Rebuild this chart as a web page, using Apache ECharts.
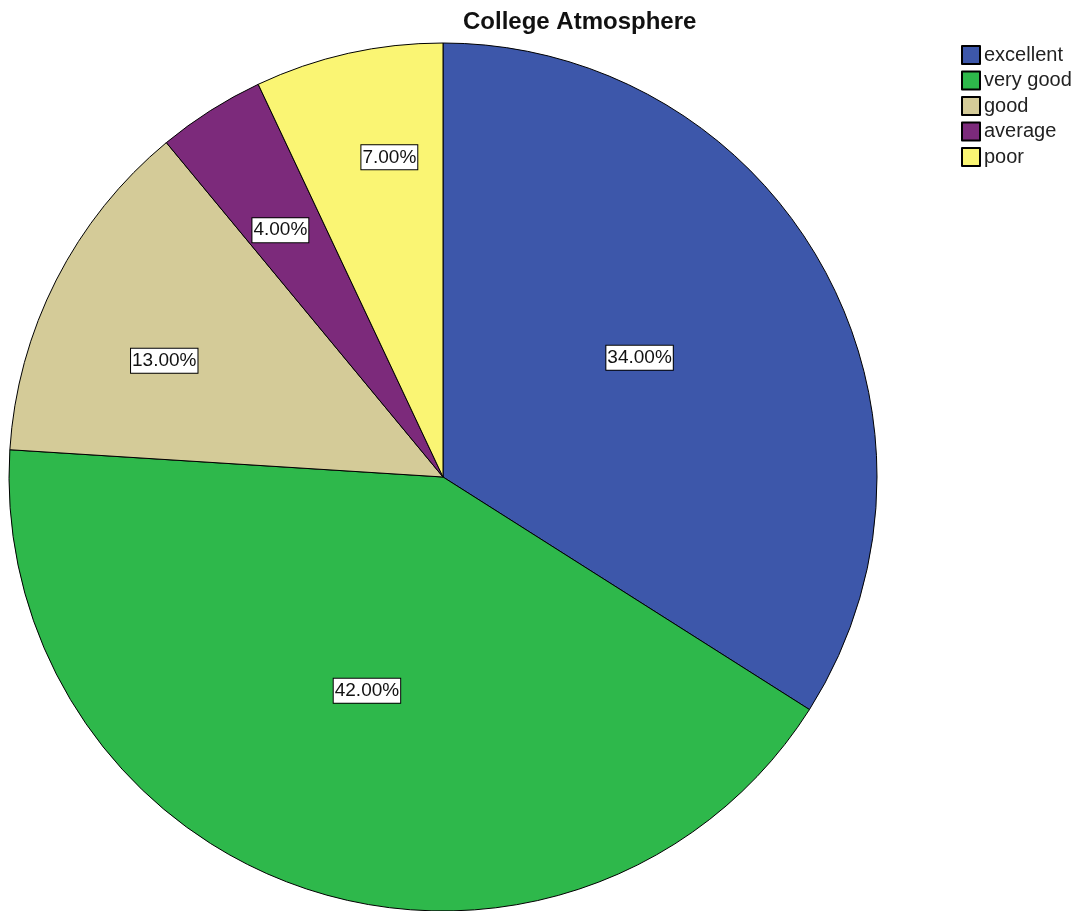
<!DOCTYPE html>
<html>
<head>
<meta charset="utf-8">
<script src="https://cdn.jsdelivr.net/npm/echarts@6/dist/echarts.min.js"></script>
<style>
html,body{margin:0;padding:0;background:#fff;}
#chart{width:1079px;height:911px;}
</style>
</head>
<body>
<div id="chart"></div>
<script>
const title = 'College Atmosphere';
const categories = ['excellent', 'very good', 'good', 'average', 'poor'];
const values = [34, 42, 13, 4, 7];
const colors = ['#3D57AA', '#2EB84B', '#D4CB98', '#7C2A7B', '#FAF573'];

// styling: radial placement of each label (fraction of radius) and angular nudge (deg)
const labelFrac = [0.523, 0.516, 0.689, 0.674, 0.74];
const labelTurn = [2.5, -1.6, 4.4, 1.0, -3.1];
const R = 434;
const font = '"Liberation Sans", Arial, Helvetica, sans-serif';

const total = values.reduce((a, b) => a + b, 0);
let cum = 0;
const data = categories.map((name, i) => {
  const mid = 90 - (cum + values[i] / 2) / total * 360;
  cum += values[i];
  const a0 = mid * Math.PI / 180;
  const a1 = (mid + labelTurn[i]) * Math.PI / 180;
  const r0 = 0.5 * R, r1 = labelFrac[i] * R;
  const dx = r1 * Math.cos(a1) - r0 * Math.cos(a0);
  const dy = -(r1 * Math.sin(a1) - r0 * Math.sin(a0));
  return {
    name: name,
    value: values[i],
    itemStyle: { color: colors[i] },
    label: { offset: [dx, dy] }
  };
});

const chart = echarts.init(document.getElementById('chart'));
chart.setOption({
  animation: false,
  backgroundColor: '#ffffff',
  title: {
    text: title,
    left: 458,
    top: 5,
    textStyle: { fontFamily: font, fontWeight: 'bold', fontSize: 24, color: '#111' }
  },
  legend: {
    orient: 'vertical',
    left: 956,
    top: 40,
    icon: 'rect',
    itemWidth: 18,
    itemHeight: 18,
    itemGap: 5.5,
    textStyle: { fontFamily: font, fontSize: 20, color: '#222', lineHeight: 18, height: 18, padding: [0, 0, 0, -1] },
    data: categories
  },
  series: [{
    type: 'pie',
    center: [443, 477],
    radius: R,
    startAngle: 90,
    clockwise: true,
    avoidLabelOverlap: false,
    itemStyle: { borderColor: '#000', borderWidth: 1 },
    label: {
      show: true,
      position: 'inside',
      formatter: p => p.value.toFixed(2) + '%',
      fontFamily: font,
      fontSize: 19,
      color: '#111',
      backgroundColor: '#fff',
      borderColor: '#000',
      borderWidth: 1,
      lineHeight: 23,
      padding: [1, 1, 0, 1]
    },
    labelLine: { show: false },
    emphasis: { disabled: true },
    data: data
  }]
});
</script>
</body>
</html>
